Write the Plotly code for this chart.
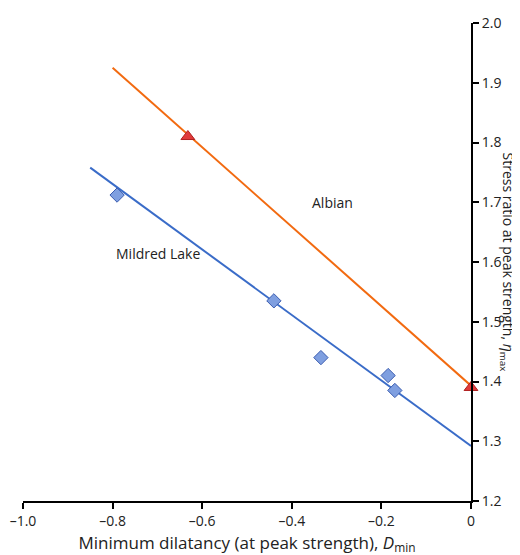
import plotly.graph_objects as go

ml_x = [-0.79, -0.44, -0.335, -0.185, -0.17]
ml_y = [1.712, 1.535, 1.44, 1.41, 1.385]
ml_fit_x = [-0.85, 0.0]
ml_fit_y = [1.758, 1.292]

al_x = [-0.632, 0.0]
al_y = [1.81, 1.39]
al_fit_x = [-0.80, 0.0]
al_fit_y = [1.925, 1.393]

x_ticks = [-1.0, -0.8, -0.6, -0.4, -0.2, 0]
x_labels = ["\u20131.0", "\u20130.8", "\u20130.6", "\u20130.4", "\u20130.2", "0"]
y_ticks = [1.2, 1.3, 1.4, 1.5, 1.6, 1.7, 1.8, 1.9, 2.0]

fig = go.Figure()
fig.add_trace(go.Scatter(x=ml_fit_x, y=ml_fit_y, mode="lines", line=dict(color="#3a6cc8", width=2)))
fig.add_trace(go.Scatter(x=al_fit_x, y=al_fit_y, mode="lines", line=dict(color="#f26a10", width=2)))
fig.add_trace(go.Scatter(x=ml_x, y=ml_y, mode="markers", cliponaxis=False,
                         marker=dict(symbol="diamond", size=11, color="#7f9fe0", line=dict(color="#3a5cb0", width=1))))
fig.add_trace(go.Scatter(x=al_x, y=al_y, mode="markers", cliponaxis=False,
                         marker=dict(symbol="triangle-up", size=12, color="#e03a3a", line=dict(color="#b02020", width=1))))

fig.add_annotation(x=-0.6, y=1.615, text="Mildred Lake", showarrow=False, font=dict(size=14, color="#222"), xanchor="right")
fig.add_annotation(x=-0.36, y=1.70, text="Albian", showarrow=False, font=dict(size=14, color="#222"), xanchor="left")
fig.add_annotation(x=1.0, xref="paper", y=0.5, yref="paper", text="Stress ratio at peak strength, <i>\u03b7</i><sub>max</sub>",
                   textangle=90, showarrow=False, xshift=49, font=dict(size=14, color="#222"))

fig.update_layout(
    width=520, height=555, showlegend=False,
    plot_bgcolor="white", paper_bgcolor="white",
    margin=dict(l=15, r=57, t=15, b=62),
    font=dict(family="Open Sans", size=14, color="#222"),
    xaxis=dict(range=[-1.0, 0], tickvals=x_ticks, ticktext=x_labels, showgrid=False, zeroline=False, automargin=False,
               showline=True, linecolor="black", linewidth=2, ticks="outside", ticklen=6, tickwidth=2, tickcolor="black",
               title=dict(text="Minimum dilatancy (at peak strength), <i>D</i><sub>min</sub>", standoff=8)),
    yaxis=dict(range=[1.2, 2.0], tickvals=y_ticks, tickformat=".1f", side="right", showgrid=False, zeroline=False, automargin=False,
               showline=True, linecolor="black", linewidth=2, ticks="outside", ticklen=6, tickwidth=2, tickcolor="black"),
)
fig.write_html("out.html")
